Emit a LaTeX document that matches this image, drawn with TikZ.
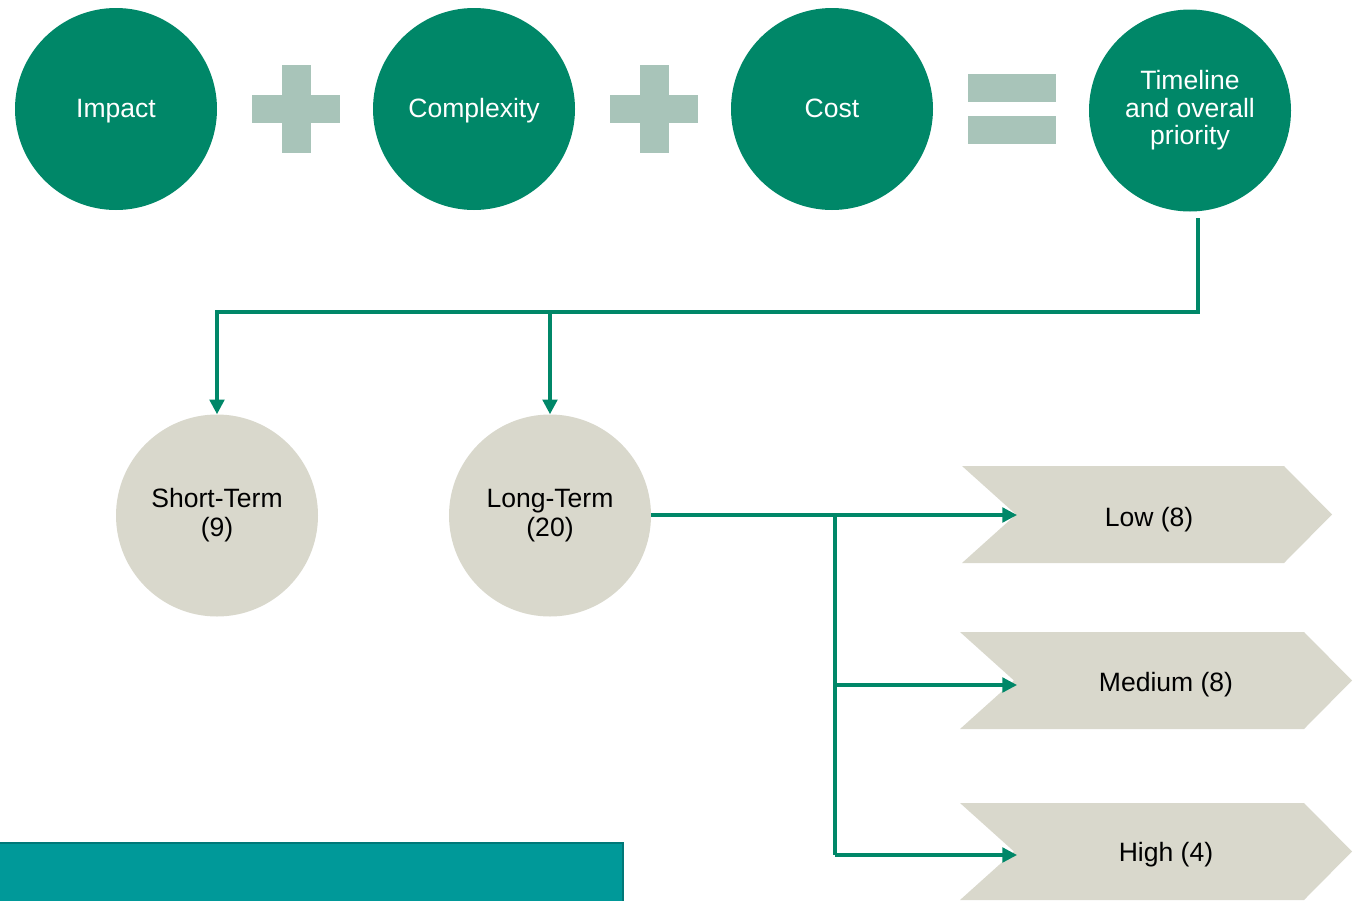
\documentclass[tikz,border=0pt]{standalone}
\usepackage{fontspec}
\setmainfont{Liberation Sans}
\usetikzlibrary{arrows.meta}
\definecolor{pgreen}{RGB}{0,135,104}
\definecolor{plus}{RGB}{168,196,185}
\definecolor{beige}{RGB}{217,216,204}
\definecolor{teal1}{RGB}{0,153,153}
\definecolor{teal2}{RGB}{0,120,120}
\tikzset{
  gcirc/.style={circle,fill=pgreen,minimum size=151.5pt,inner sep=0pt,text=white,align=center,font=\fontsize{19.9}{20.6}\selectfont},
  single/.style={text height=17pt,text depth=4.3pt},
  bcirc/.style={circle,fill=beige,minimum size=151.5pt,inner sep=0pt,text=black,align=center,font=\fontsize{19.9}{21.8}\selectfont},
  lbl/.style={text=black,font=\fontsize{19.9}{22}\selectfont,inner sep=0pt},
  symb/.style={fill=plus},
  chevfill/.style={fill=beige},
  conn/.style={draw=pgreen,line width=2.4pt,-{Triangle[length=11pt,width=11pt]}},
  line/.style={draw=pgreen,line width=2.4pt},
}
\begin{document}
\begin{tikzpicture}[x=0.75pt,y=-0.75pt]
\useasboundingbox (0,0) rectangle (1360,900);
\clip (0,0) rectangle (1360,900);
% top circles
\node[gcirc,single] (imp) at (116,109) {Impact};
\node[gcirc,single] (cmp) at (474,109) {Complexity};
\node[gcirc,single] (cst) at (832,109) {Cost};
\node[gcirc] (tl) at (1190,110.5) {Timeline\\and overall\\priority};
% plus signs
\foreach \cx in {296,654}{
  \fill[symb] (\cx-44,95) rectangle (\cx+44,123);
  \fill[symb] (\cx-14.5,65) rectangle (\cx+14.5,153);
}
% equals
\fill[symb] (968,74) rectangle (1056,102);
\fill[symb] (968,116) rectangle (1056,144);
% grey circles
\node[bcirc] (st) at (217,515.5) {Short-Term\\(9)};
\node[bcirc] (lt) at (550,515.5) {Long-Term\\(20)};
% chevrons
\fill[chevfill] (962,466) -- (1284,466) -- (1332,514.5) -- (1284,563) -- (962,563) -- (1016,514.5) -- cycle;
\fill[chevfill] (960,632) -- (1304,632) -- (1352,680.5) -- (1304,729) -- (960,729) -- (1014,680.5) -- cycle;
\fill[chevfill] (960,803) -- (1304,803) -- (1352,851.5) -- (1304,900) -- (960,900) -- (1014,851.5) -- cycle;
\node[lbl] (low) at (1149,519.5) {Low (8)};
\node[lbl] (med) at (1166,684.5) {Medium (8)};
\node[lbl] (hig) at (1166,854.5) {High (4)};
\coordinate (lowin) at (1017,515);
\coordinate (medin) at (1017,685);
\coordinate (higin) at (1017,855);
% connectors
\coordinate (bus) at (550,312);
\coordinate (tlout) at (1198,218);
\draw[line] (tlout) |- (bus);
\draw[conn] (bus) -| (st.north);
\draw[conn] (bus) -- (lt.north);
\coordinate (split) at (835,515);
\draw[line] (lt.east |- split) -- (split);
\draw[conn] (split) -- (lowin);
\draw[line] (split) -- (835,855);
\draw[conn] (split |- medin) -- (medin);
\draw[conn] (split |- higin) -- (higin);
% bottom bar
\draw[fill=teal1,draw=teal2,line width=1.5pt] (-5,843) rectangle (623,910);
\end{tikzpicture}
\end{document}
